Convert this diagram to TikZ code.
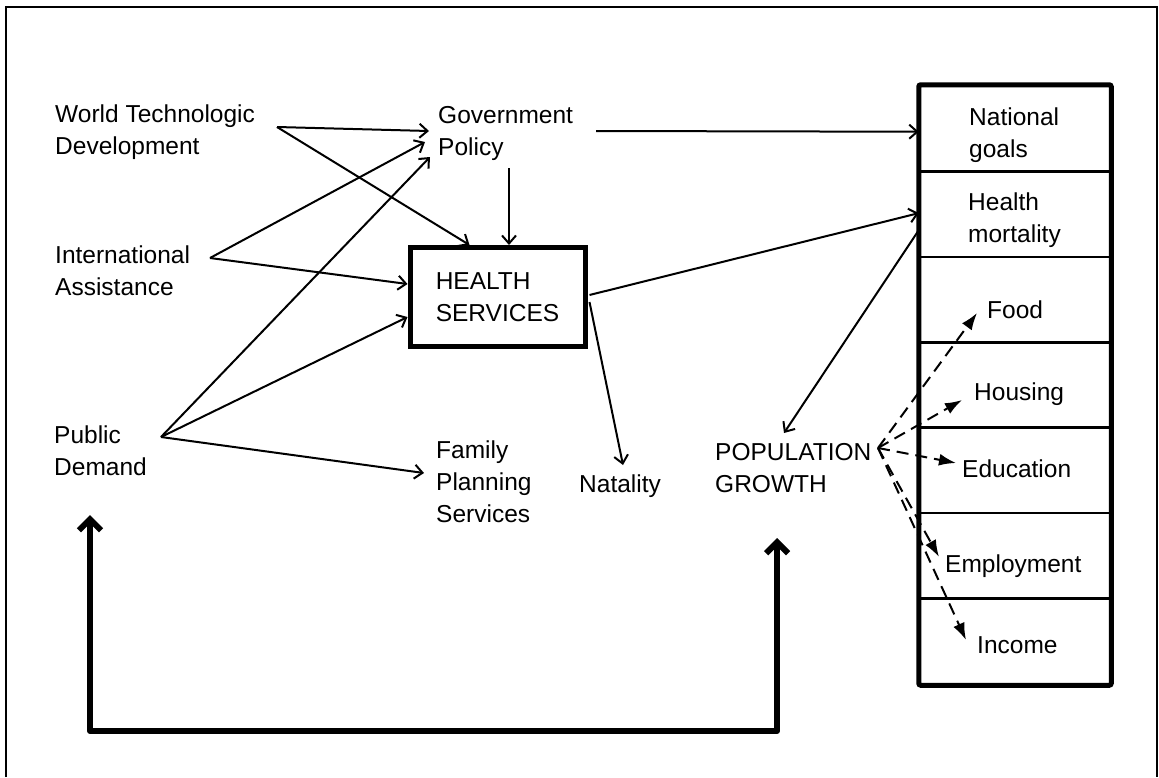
\documentclass[tikz,border=0pt]{standalone}
\usepackage{fontspec}
\setmainfont{Liberation Sans}
\usetikzlibrary{arrows.meta,calc}
\begin{document}
\begin{tikzpicture}[x=1pt,y=-1pt,
  txt/.style={font=\fontsize{24.5}{32}\selectfont, inner sep=0pt, anchor=base west, align=left},
  arr/.style={line width=2pt, -{Straight Barb[length=8pt,width=14pt]}},
  dsh/.style={line width=2pt, dash pattern=on 12pt off 7pt, -{Latex[length=17pt,width=12pt]}},
  fb/.style={line width=6pt, line cap=round, line join=round, {Straight Barb[length=11pt,width=22pt]}-{Straight Barb[length=11pt,width=22pt]}},
  rowbox/.style={draw, line width=2.5pt, minimum width=190pt, minimum height=85.43pt, inner sep=0pt},
]
\useasboundingbox (0,0) rectangle (1159,777);
\draw[line width=2.5pt] (6,777) -- (6,7) -- (1157,7) -- (1157,777);

% text nodes (base = baseline of last line)
\node[txt] (wtd) at (55,154) {World Technologic\\Development};
\node[txt] (gov) at (438,155) {Government\\Policy};
\node[txt] (int) at (55,295) {International\\Assistance};
\node[txt] (pub) at (54,475) {Public\\Demand};
\node[txt] (fam) at (436,522) {Family\\Planning\\Services};
\node[txt] (nat) at (579,492) {Natality};
\node[txt] (pop) at (715,492) {POPULATION\\GROWTH};
\node[draw, line width=5pt, minimum width=175pt, minimum height=99pt, inner sep=0pt,
      font=\fontsize{24.5}{32}\selectfont, align=left] (hs) at (497.5,297) {HEALTH\\SERVICES};

% right column
\foreach \i in {1,...,7}{
  \node[rowbox] (r\i) at (1015,{86+85.43*(\i-0.5)}) {};
}
\draw[line width=5pt, rounded corners=2pt] (r1.north west) rectangle (r7.south east);
\node[txt] (ng) at (969,157) {National\\goals};
\node[txt] (hm) at (968,242) {Health\\mortality};
\node[txt] (food) at (987,318) {Food};
\node[txt] (hous) at (974,400) {Housing};
\node[txt] (edu) at (962,477) {Education};
\node[txt] (emp) at (945,572) {Employment};
\node[txt] (inc) at (977,653) {Income};

% solid connectors
\draw[arr] ($(wtd.base west)+(222,-27)$) -- ($(gov.base west)+(-9,-24)$);
\draw[arr] ($(wtd.base west)+(222,-27)$) -- ($(hs.north)+(-28,0)$);
\draw[arr] ($(gov.base west)+(71,13)$) -- ($(hs.north)+(11.5,0)$);
\draw[arr] ($(int.base west)+(155,-37)$) -- ($(gov.base west)+(-13,-13)$);
\draw[arr] ($(int.base west)+(155,-37)$) -- ($(hs.west)+(0,-13)$);
\draw[arr] ($(pub.base west)+(107,-38)$) -- ($(gov.base west)+(-8,2)$);
\draw[arr] ($(pub.base west)+(107,-38)$) -- ($(hs.west)+(0,20)$);
\draw[arr] ($(pub.base west)+(107,-38)$) -- ($(fam.base west)+(-12,-49)$);
\draw[arr] ($(gov.base west)+(158,-24)$) -- ($(r1.west)+(0,3)$);
\draw[arr] ($(hs.east)+(2,-2)$) -- ($(r2.west)+(0,-1)$);
\draw[arr] ($(hs.east)+(2,5)$) -- ($(nat.base west)+(44,-27)$);
\draw[arr] ($(r2.west)+(0,16)$) -- ($(pop.base west)+(69,-59)$);

% dashed connectors
\coordinate (pc) at ($(pop.base west)+(163,-44)$);
\draw[dsh] (pc) -- ($(food.base west)+(-10,-5)$);
\draw[dsh] (pc) -- ($(hous.base west)+(-12,0)$);
\draw[dsh] (pc) -- ($(edu.base west)+(-6,-14)$);
\draw[dsh] (pc) -- ($(emp.base west)+(-6,-15)$);
\draw[dsh] (pc) -- ($(inc.base west)+(-11,-13)$);

% feedback loop
\coordinate (fbL) at ($(pub.base west)+(36,40)$);
\coordinate (fbR) at ($(pop.base west)+(62,46)$);
\draw[fb] (fbL) -- ++(0,216) -| (fbR);
\end{tikzpicture}
\end{document}
